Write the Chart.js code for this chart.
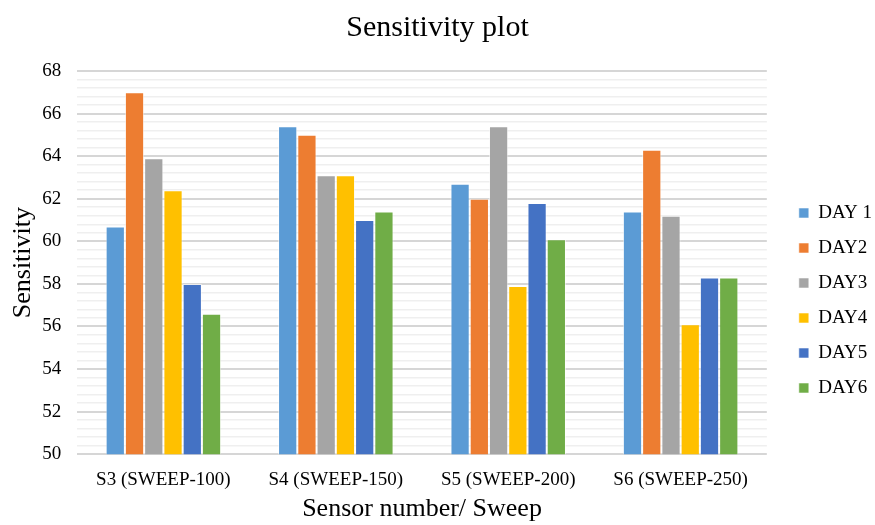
<!DOCTYPE html>
<html>
<head>
<meta charset="utf-8">
<script src="https://cdn.jsdelivr.net/npm/chart.js@4/dist/chart.umd.min.js"></script>
<style>
  html, body { margin: 0; padding: 0; background: #fff; }
  #wrap { width: 875px; height: 525px; }
</style>
</head>
<body>
<div id="wrap"><canvas id="chart" width="875" height="525"></canvas></div>
<script>
// Sensor sweeps on the x axis
const categories = ['S3 (SWEEP-100)', 'S4 (SWEEP-150)', 'S5 (SWEEP-200)', 'S6 (SWEEP-250)'];

// Sensitivity per day
const day1 = [60.7, 65.4, 62.7, 61.4];
const day2 = [67.0, 65.0, 62.0, 64.3];
const day3 = [63.9, 63.1, 65.4, 61.2];
const day4 = [62.4, 63.1, 57.9, 56.1];
const day5 = [58.0, 61.0, 61.8, 58.3];
const day6 = [56.6, 61.4, 60.1, 58.3];

const seriesNames = ['DAY 1', 'DAY2', 'DAY3', 'DAY4', 'DAY5', 'DAY6'];
const seriesValues = [day1, day2, day3, day4, day5, day6];
const seriesColors = ['#5b9bd5', '#ed7d31', '#a5a5a5', '#ffc000', '#4472c4', '#70ad47'];

// Y axis range, labelled every 2 with faint lines every 0.4
const yMin = 50, yMax = 68, yLabelStep = 2, yMinorStep = 0.4;

const serif = '"Liberation Serif", "Times New Roman", serif';

const isLabelled = v => Math.abs(v / yLabelStep - Math.round(v / yLabelStep)) < 1e-6;

new Chart(document.getElementById('chart'), {
  type: 'bar',
  data: {
    labels: categories,
    datasets: seriesNames.map((name, i) => ({
      label: name,
      data: seriesValues[i],
      backgroundColor: seriesColors[i],
      borderColor: 'rgba(255,255,255,0.55)',
      borderWidth: 1,
      categoryPercentage: 0.67,
      barPercentage: 1.0
    }))
  },
  options: {
    responsive: false,
    animation: false,
    layout: { padding: { left: -7, right: -7, top: 0, bottom: 0 } },
    plugins: {
      title: {
        display: true,
        text: 'Sensitivity plot',
        color: '#000',
        font: { family: serif, size: 30, weight: 'normal' },
        padding: { top: 10, bottom: 25 }
      },
      legend: {
        position: 'right',
        align: 'center',
        // empty title block nudges the key down beside the bars
        title: {
          display: true,
          text: '',
          font: { size: 12, lineHeight: 1 },
          padding: { top: 32, bottom: 32 }
        },
        labels: {
          color: '#000',
          font: { family: serif, size: 19 },
          boxWidth: 10,
          boxHeight: 10,
          padding: 16
        }
      },
      tooltip: { enabled: false }
    },
    scales: {
      x: {
        grid: { display: false },
        border: { display: false },
        ticks: {
          color: '#000',
          font: { family: serif, size: 19 },
          padding: 6
        },
        title: {
          display: true,
          text: 'Sensor number/ Sweep',
          color: '#000',
          font: { family: serif, size: 26, lineHeight: 1 },
          padding: { top: -1, bottom: 3 }
        }
      },
      y: {
        min: yMin,
        max: yMax,
        border: { display: false },
        grid: {
          drawTicks: false,
          color: ctx => isLabelled(ctx.tick.value) ? '#d6d6d6' : '#efefef',
          lineWidth: ctx => isLabelled(ctx.tick.value) ? 2 : 1.5
        },
        ticks: {
          stepSize: yMinorStep,
          autoSkip: false,
          color: '#000',
          font: { family: serif, size: 19 },
          padding: 16,
          callback: v => isLabelled(v) ? String(Math.round(v)) : ''
        },
        title: {
          display: true,
          text: 'Sensitivity',
          color: '#000',
          font: { family: serif, size: 26 },
          padding: { top: 15, bottom: -13 }
        }
      },
      // blank spacer between the plot and the key
      gap: {
        position: 'right',
        display: true,
        grid: { display: false },
        border: { display: false },
        ticks: { display: false },
        afterFit: s => { s.width = 16; }
      }
    }
  }
});
</script>
</body>
</html>
